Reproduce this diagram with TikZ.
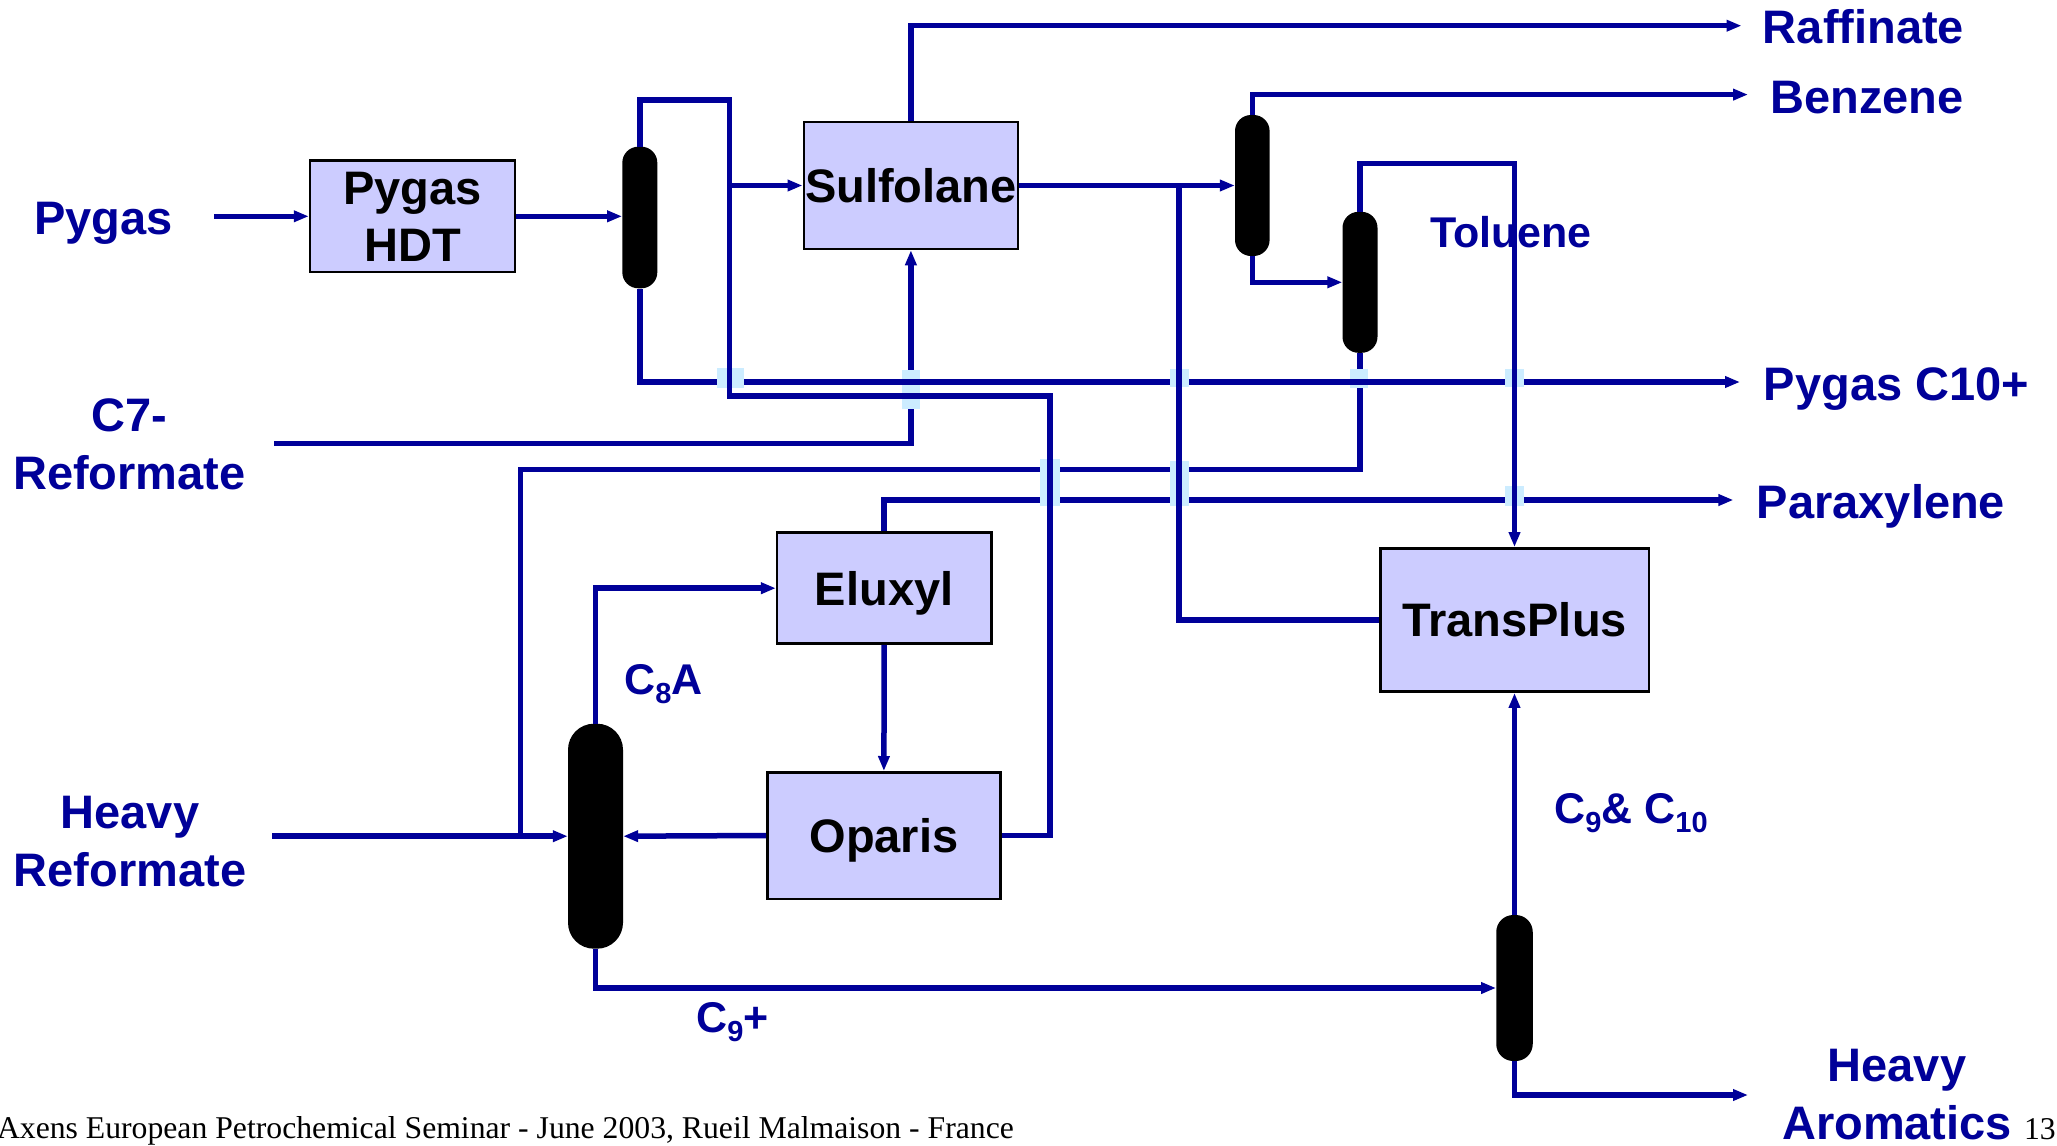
\documentclass[tikz,border=0pt]{standalone}
\usepackage{fontspec}
\setmainfont{Liberation Sans}
\newfontfamily\footfont{Liberation Serif}
\usetikzlibrary{arrows.meta}
\definecolor{lblue}{RGB}{0,0,153}
\definecolor{boxfill}{RGB}{204,204,255}
\definecolor{jumpc}{RGB}{204,236,255}
\newcommand\mysub[1]{\raisebox{-0.22em}{\fontsize{29}{29}\selectfont #1}}
\begin{document}
\begin{tikzpicture}[x=1pt,y=-1pt,
  flow/.style={draw=lblue,line width=5.5pt},
  arr/.style={-{Triangle[length=15pt,width=11pt]}},
  unit/.style={draw=black,line width=2.5pt,fill=boxfill,inner sep=0pt,text=black,
    font=\bfseries\fontsize{47}{56.7}\selectfont,text height=33.7pt,text depth=0pt,align=center},
  col/.style={fill=black,draw=none,inner sep=0pt},
  lab/.style={text=lblue,font=\bfseries\fontsize{47}{58}\selectfont,inner sep=0pt,align=center},
  slab/.style={text=lblue,font=\bfseries\fontsize{43}{50}\selectfont,inner sep=0pt},
  jumpbox/.style={fill=jumpc,draw=none},
  foot/.style={text=black,font=\footfont\fontsize{31.7}{31.7}\selectfont,inner sep=0pt}]

\fill[white] (0,0) rectangle (2057,1146);
\useasboundingbox (0,0) rectangle (2057,1146);

% ---------- labels ----------
\node[lab,anchor=base] (lPygas) at (103.5,234) {Pygas};
\node[lab,anchor=base] (lC7) at (129.5,489.5) {C7-\\Reformate};
\node[lab,anchor=base] (lHR) at (130,886) {Heavy\\Reformate};
\node[lab,anchor=base] (lRaf) at (1863.5,43.6) {Raffinate};
\node[lab,anchor=base] (lBenz) at (1867,113.6) {Benzene};
\node[lab,anchor=base] (lC10) at (1896.5,400) {Pygas C10+};
\node[lab,anchor=base] (lPX) at (1881,518) {Paraxylene};
\node[lab,anchor=base] (lHA) at (1897,1139.5) {Heavy\\Aromatics};
\node[slab,anchor=base] (lTol) at (1511,247.5) {Toluene};
\node[slab,anchor=base west] (lC8) at (624,694.4) {C\mysub{8}A};
\node[slab,anchor=base west] (lC9) at (696,1032) {C\mysub{9}+};
\node[slab,anchor=base west] (lC910) at (1554,823) {C\mysub{9}\& C\mysub{10}};
\node[foot,anchor=base east] (footer) at (1014,1138) {Axens European Petrochemical Seminar - June 2003, Rueil Malmaison - France};
\node[foot,anchor=base east] (page) at (2056,1139) {13};

% ---------- units ----------
\node[unit,minimum width=205pt,minimum height=111.5pt,text height=90.4pt] (hdt) at (412.5,216.3) {Pygas\\HDT};
\node[unit,minimum width=214.3pt,minimum height=127pt] (sulf) at (910.9,185.5) {Sulfolane};
\node[unit,minimum width=214.2pt,minimum height=111pt] (elux) at (884.2,588.2) {Eluxyl};
\node[unit,minimum width=233.3pt,minimum height=126.5pt] (opar) at (883.9,835.5) {Oparis};
\node[unit,minimum width=268.5pt,minimum height=143.4pt] (trans) at (1514.5,620) {TransPlus};

% ---------- columns ----------
\node[col,minimum width=35pt,minimum height=141.6pt,rounded corners=16pt] (col1) at (639.8,217.5) {};
\node[col,minimum width=34.6pt,minimum height=141pt,rounded corners=16pt] (col2) at (1252.3,185.5) {};
\node[col,minimum width=35pt,minimum height=141pt,rounded corners=16pt] (col3) at (1360,282.3) {};
\node[col,minimum width=55pt,minimum height=225pt,rounded corners=26pt] (col4) at (595.5,836.2) {};
\node[col,minimum width=36.5pt,minimum height=146pt,rounded corners=17pt] (col5) at (1514.5,988) {};

% ---------- free ends ----------
\coordinate (inPygas) at (214,216.3);
\coordinate (inC7) at (274,443.5);
\coordinate (inHR) at (272,836.2);
\coordinate (outRaf) at (1741.5,25.7);
\coordinate (outBenz) at (1748,94.6);
\coordinate (outC10) at (1740,382);
\coordinate (outPX) at (1733.4,500);
\coordinate (outHA) at (1748,1095);
\coordinate (jSulf) at (729.6,185.5);
\coordinate (jTrans) at (1178.8,185.5);
\coordinate (jHR) at (520.5,836.2);

% ---------- connectors ----------
\draw[flow,arr] (inPygas) -- (hdt.west);
\draw[flow,arr] (hdt.east) -- (hdt.east -| col1.west);
\draw[flow] (opar.east) -| (1050,396) -| (729.6,100) -| (col1.north);
\draw[flow,arr] (jSulf) -- (sulf.west);
\draw[flow,arr] (sulf.north) |- (outRaf);
\draw[flow,arr] (col1.south) |- (outC10);
\draw[flow,arr] (inC7) -| (sulf.south);
\draw[flow,arr] (sulf.east) -- (col2.west);
\draw[flow] (jTrans) |- (trans.west);
\draw[flow,arr] (col2.north) |- (outBenz);
\draw[flow,arr] (col2.south) |- (col3.west);
\draw[flow,arr] (col3.north) |- (1514.5,163.6) -- (trans.north);
\draw[flow] (col3.south) |- (520.5,469.6) -- (jHR);
\draw[flow,arr] (elux.north) |- (outPX);
\draw[flow,arr] (elux.south) -- (opar.north);
\draw[flow,arr] (opar.west) -- (col4.east);
\draw[flow,arr] (inHR) -- (col4.west);
\draw[flow,arr] (col4.north) |- (elux.west);
\draw[flow,arr] (col4.south) |- (col5.west);
\draw[flow,arr] (col5.north) -- (trans.south);
\draw[flow,arr] (col5.south) |- (outHA);

% ---------- crossing jumps ----------
\fill[jumpbox] (717,368) rectangle (744,387.5);
\draw[flow] (729.6,368) -- (729.6,387.5);
\fill[jumpbox] (902,370) rectangle (920,409);
\draw[flow] (902,382) -- (920,382);
\draw[flow] (902,396) -- (920,396);
\fill[jumpbox] (1170,369) rectangle (1189,386.5);
\draw[flow] (1178.8,369) -- (1178.8,386.5);
\fill[jumpbox] (1040,459) rectangle (1060,505.5);
\draw[flow] (1050,459) -- (1050,505.5);
\fill[jumpbox] (1170,461) rectangle (1188.5,506);
\draw[flow] (1178.8,461) -- (1178.8,506);
\fill[jumpbox] (1350,369) rectangle (1368,387.7);
\draw[flow] (1350,382) -- (1368,382);
\fill[jumpbox] (1505,369) rectangle (1524,387);
\draw[flow] (1514.5,369) -- (1514.5,387);
\fill[jumpbox] (1505,486) rectangle (1524,505.5);
\draw[flow] (1514.5,486) -- (1514.5,505.5);
\end{tikzpicture}
\end{document}
